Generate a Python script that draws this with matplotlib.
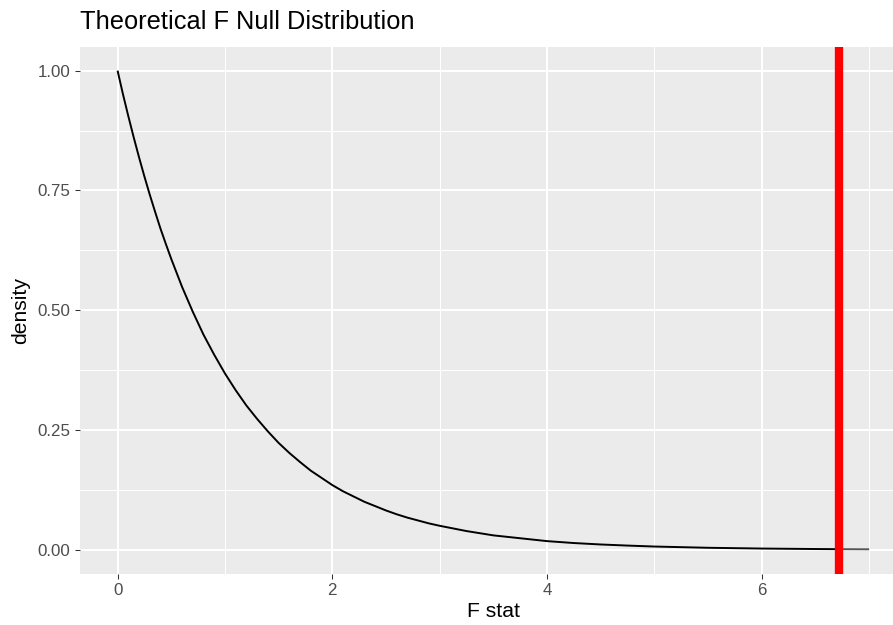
import matplotlib
matplotlib.use("Agg")
import matplotlib.pyplot as plt
from matplotlib.ticker import FixedLocator

plt.rcParams['font.family'] = ['Liberation Sans', 'DejaVu Sans']

# Values
f_x = [0.0, 0.05, 0.1, 0.15, 0.2, 0.25, 0.3, 0.35, 0.4, 0.45, 0.5, 0.6, 0.7,
       0.8, 0.9, 1.0, 1.1, 1.2, 1.3, 1.4, 1.5, 1.6, 1.7, 1.8, 1.9, 2.0,
       2.1, 2.2, 2.3, 2.4, 2.5, 2.6, 2.7, 2.8, 2.9, 3.0, 3.25, 3.5, 3.75,
       4.0, 4.25, 4.5, 4.75, 5.0, 5.5, 6.0, 6.5, 6.72, 7.0]
density = [1.000, 0.951, 0.905, 0.861, 0.819, 0.779, 0.741, 0.705, 0.670,
           0.638, 0.607, 0.549, 0.497, 0.449, 0.407, 0.368, 0.333, 0.301,
           0.273, 0.247, 0.223, 0.202, 0.183, 0.165, 0.150, 0.135, 0.122,
           0.111, 0.100, 0.091, 0.082, 0.074, 0.067, 0.061, 0.055, 0.050,
           0.039, 0.030, 0.024, 0.018, 0.014, 0.011, 0.0087, 0.0067, 0.0041,
           0.0025, 0.0015, 0.0012, 0.0009]
obs_stat = 6.72
x_ticks = [0, 2, 4, 6]
y_ticks = [0.00, 0.25, 0.50, 0.75, 1.00]
y_tick_labels = ["0.00", "0.25", "0.50", "0.75", "1.00"]

W, H = 893, 625
fig = plt.figure(figsize=(W / 100, H / 100), dpi=100)
left, right, top, bottom = 80, 906.7, 46.7, 573.7
ax = fig.add_axes([left / W, 1 - bottom / H, (right - left) / W, (bottom - top) / H])
ax.set_facecolor('#EBEBEB')
for s in ax.spines.values():
    s.set_visible(False)

ax.set_xlim(-0.35, 7.35)
ax.set_ylim(-0.05, 1.05)
ax.xaxis.set_major_locator(FixedLocator(x_ticks))
ax.yaxis.set_major_locator(FixedLocator(y_ticks))
ax.set_yticklabels(y_tick_labels)
ax.xaxis.set_minor_locator(FixedLocator([1, 3, 5, 7]))
ax.yaxis.set_minor_locator(FixedLocator([0.125, 0.375, 0.625, 0.875]))
ax.grid(which='major', color='white', linewidth=1.5)
ax.grid(which='minor', color='white', linewidth=0.75)
ax.set_axisbelow(True)
ax.tick_params(which='major', length=3.8, width=0.75, color='#333333',
               labelsize=12.2, labelcolor='#4D4D4D', pad=3)
ax.tick_params(which='minor', length=0)

# curve
split = f_x.index(obs_stat)
ax.plot(f_x[:split + 1], density[:split + 1], color='black', linewidth=1.4,
        solid_capstyle='butt', solid_joinstyle='round')
ax.plot(f_x[split:], density[split:], color='#555555', linewidth=1.4,
        solid_capstyle='butt')
ax.axvline(obs_stat, color='#FF0000', linewidth=6)

ax.set_xlabel('F stat', fontsize=15.2, labelpad=3)
ax.set_ylabel('density', fontsize=15.2, labelpad=5)
fig.text(left / W, 1 - 22 / H, 'Theoretical F Null Distribution',
         fontsize=18.3, ha='left', va='center')

fig.savefig('out.png', dpi=100)
